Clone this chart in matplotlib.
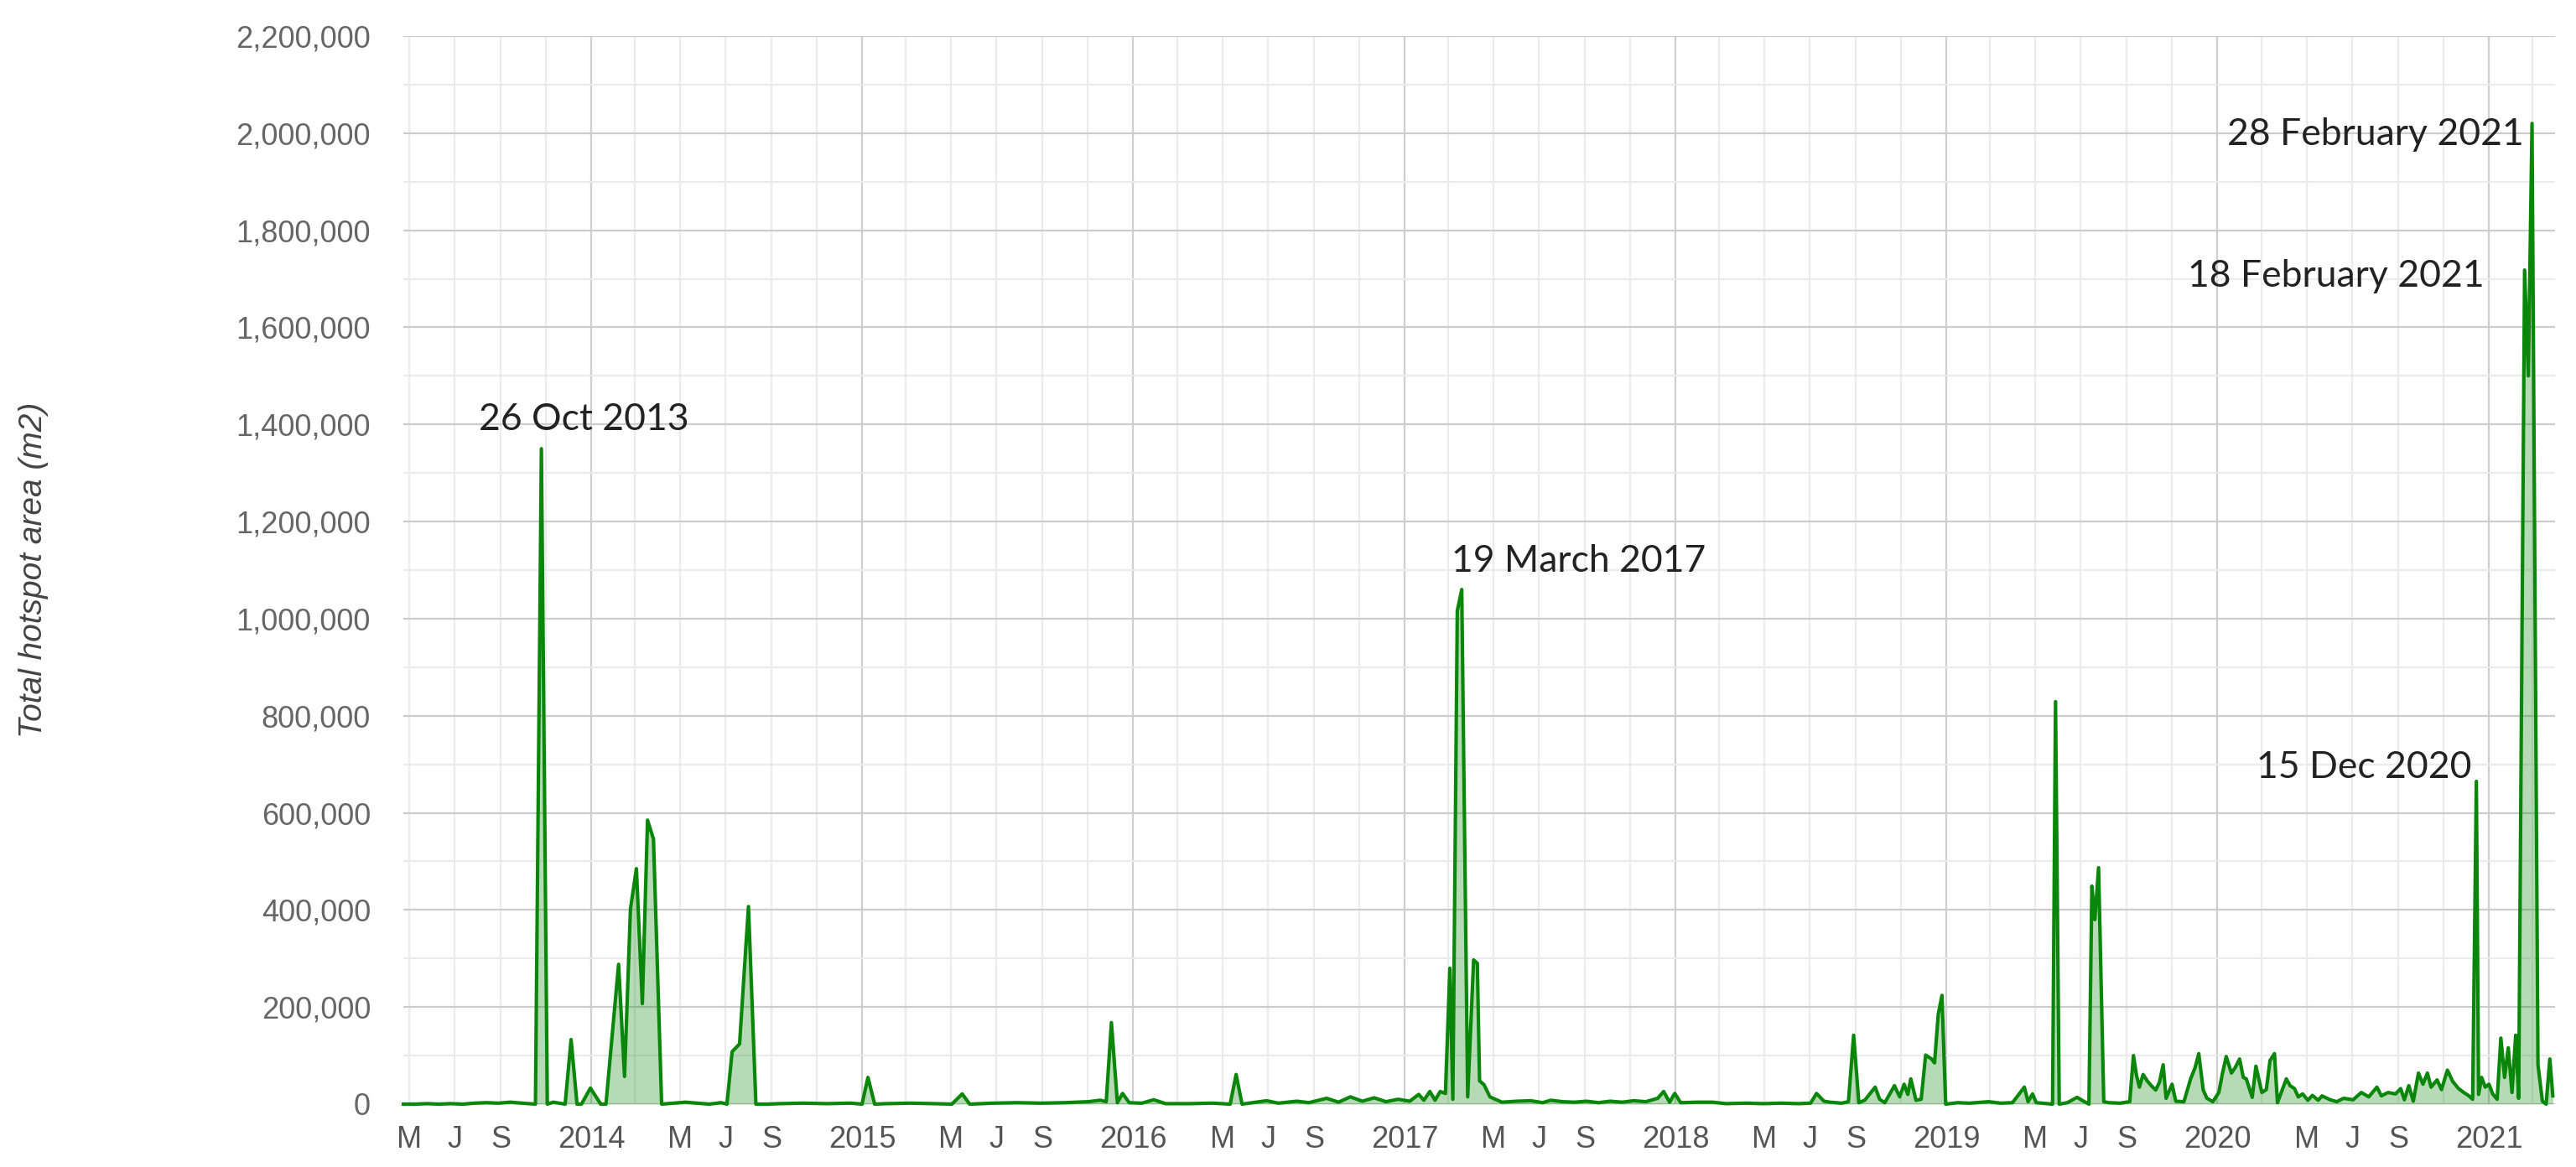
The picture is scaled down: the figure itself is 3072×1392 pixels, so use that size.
import pandas as pd
import numpy as np
import matplotlib
matplotlib.use("Agg")
import matplotlib.pyplot as plt
import matplotlib.dates as mdates
from matplotlib.ticker import MultipleLocator, FuncFormatter

# hotspot area time series (m2)
dates = [
    "2013-04-23", "2013-05-09", "2013-05-25", "2013-06-10", "2013-06-26", "2013-07-12",
    "2013-07-28", "2013-08-13", "2013-08-29", "2013-09-14", "2013-09-30", "2013-10-18",
    "2013-10-26", "2013-11-03", "2013-11-11", "2013-11-19", "2013-11-27", "2013-12-05",
    "2013-12-13", "2013-12-19", "2013-12-31", "2014-01-14", "2014-01-21", "2014-02-07",
    "2014-02-15", "2014-02-23", "2014-03-03", "2014-03-11", "2014-03-18", "2014-03-26",
    "2014-04-06", "2014-04-22", "2014-05-08", "2014-05-24", "2014-06-09", "2014-06-25",
    "2014-07-03", "2014-07-10", "2014-07-20", "2014-08-01", "2014-08-11", "2014-08-27",
    "2014-09-12", "2014-10-14", "2014-11-15", "2014-12-17", "2015-01-01", "2015-01-09",
    "2015-01-18", "2015-02-03", "2015-03-07", "2015-04-08", "2015-05-02", "2015-05-16",
    "2015-05-26", "2015-06-27", "2015-07-29", "2015-08-30", "2015-10-01", "2015-11-02",
    "2015-11-18", "2015-11-26", "2015-12-03", "2015-12-11", "2015-12-18", "2015-12-27",
    "2016-01-13", "2016-01-29", "2016-02-14", "2016-03-17", "2016-04-18", "2016-05-11",
    "2016-05-19", "2016-05-27", "2016-06-29", "2016-07-15", "2016-08-09", "2016-08-25",
    "2016-09-10", "2016-09-18", "2016-10-04", "2016-10-20", "2016-11-05", "2016-11-21",
    "2016-12-07", "2016-12-23", "2017-01-08", "2017-01-20", "2017-01-27", "2017-02-04",
    "2017-02-11", "2017-02-18", "2017-02-25", "2017-03-03", "2017-03-07", "2017-03-13",
    "2017-03-19", "2017-03-27", "2017-04-04", "2017-04-09", "2017-04-12", "2017-04-18",
    "2017-04-26", "2017-05-12", "2017-06-01", "2017-06-20", "2017-07-06", "2017-07-17",
    "2017-08-02", "2017-08-18", "2017-09-03", "2017-09-19", "2017-10-05", "2017-10-21",
    "2017-11-06", "2017-11-22", "2017-12-08", "2017-12-16", "2017-12-24", "2017-12-31",
    "2018-01-08", "2018-01-31", "2018-02-20", "2018-03-10", "2018-04-06", "2018-04-30",
    "2018-05-23", "2018-06-16", "2018-07-02", "2018-07-10", "2018-07-20", "2018-07-28",
    "2018-08-13", "2018-08-22", "2018-08-29", "2018-09-05", "2018-09-13", "2018-09-27",
    "2018-10-03", "2018-10-10", "2018-10-23", "2018-10-30", "2018-11-05", "2018-11-10",
    "2018-11-14", "2018-11-21", "2018-11-28", "2018-12-04", "2018-12-12", "2018-12-16",
    "2018-12-21", "2018-12-26", "2018-12-31", "2019-01-16", "2019-02-01", "2019-02-27",
    "2019-03-15", "2019-03-31", "2019-04-16", "2019-04-21", "2019-04-27", "2019-05-02",
    "2019-05-24", "2019-05-28", "2019-06-02", "2019-06-13", "2019-06-26", "2019-07-06",
    "2019-07-12", "2019-07-16", "2019-07-20", "2019-07-25", "2019-08-01", "2019-08-08",
    "2019-08-23", "2019-09-05", "2019-09-10", "2019-09-14", "2019-09-18", "2019-09-23",
    "2019-09-29", "2019-10-04", "2019-10-10", "2019-10-15", "2019-10-20", "2019-10-24",
    "2019-11-01", "2019-11-06", "2019-11-17", "2019-11-26", "2019-12-02", "2019-12-07",
    "2019-12-13", "2019-12-18", "2019-12-26", "2020-01-03", "2020-01-08", "2020-01-13",
    "2020-01-20", "2020-01-25", "2020-01-31", "2020-02-05", "2020-02-09", "2020-02-17",
    "2020-02-22", "2020-03-01", "2020-03-07", "2020-03-12", "2020-03-18", "2020-03-22",
    "2020-04-03", "2020-04-08", "2020-04-14", "2020-04-19", "2020-04-25", "2020-05-02",
    "2020-05-08", "2020-05-16", "2020-05-21", "2020-06-01", "2020-06-10", "2020-06-19",
    "2020-07-02", "2020-07-13", "2020-07-23", "2020-08-03", "2020-08-09", "2020-08-18",
    "2020-08-28", "2020-09-04", "2020-09-09", "2020-09-15", "2020-09-21", "2020-09-28",
    "2020-10-04", "2020-10-10", "2020-10-15", "2020-10-23", "2020-10-29", "2020-11-06",
    "2020-11-13", "2020-11-21", "2020-11-28", "2020-12-05", "2020-12-10", "2020-12-15",
    "2020-12-18", "2020-12-22", "2020-12-27", "2021-01-01", "2021-01-06", "2021-01-12",
    "2021-01-17", "2021-01-22", "2021-01-27", "2021-02-01", "2021-02-06", "2021-02-10",
    "2021-02-18", "2021-02-23", "2021-02-28", "2021-03-08", "2021-03-14", "2021-03-19",
    "2021-03-24", "2021-03-28",
]
area = [
    0, 0, 1000, 0, 1000, 0,
    2000, 3000, 2000, 4000, 2000, 0,
    1350000, 0, 4000, 2000, 0, 133000,
    0, 0, 33000, 0, 0, 288000,
    57000, 402000, 485000, 207000, 585000, 546000,
    0, 2000, 4000, 2000, 0, 3000,
    0, 108000, 124000, 407000, 0, 0,
    1000, 2000, 1000, 2000, 0, 55000,
    0, 1000, 2000, 1000, 0, 21000,
    0, 2000, 3000, 2000, 3000, 5000,
    8000, 5000, 168000, 3000, 22000, 3000,
    2000, 9000, 1000, 1000, 2000, 0,
    61000, 0, 7000, 2000, 6000, 3000,
    9000, 12000, 4000, 15000, 6000, 13000,
    5000, 10000, 6000, 20000, 8000, 26000,
    8000, 26000, 22000, 280000, 10000, 1016000,
    1060000, 15000, 297000, 290000, 48000, 40000,
    15000, 4000, 6000, 7000, 3000, 8000,
    5000, 4000, 6000, 3000, 6000, 4000,
    7000, 5000, 12000, 26000, 4000, 22000,
    3000, 4000, 4000, 1000, 2000, 1000,
    2000, 1000, 2000, 22000, 6000, 4000,
    2000, 5000, 142000, 3000, 8000, 35000,
    10000, 3000, 38000, 15000, 41000, 20000,
    52000, 8000, 10000, 101000, 93000, 85000,
    185000, 224000, 0, 3000, 2000, 5000,
    2000, 3000, 35000, 5000, 21000, 3000,
    0, 829000, 0, 3000, 14000, 5000,
    0, 449000, 380000, 487000, 5000, 3000,
    2000, 5000, 100000, 60000, 35000, 61000,
    47000, 38000, 29000, 45000, 81000, 12000,
    41000, 6000, 5000, 52000, 75000, 104000,
    29000, 12000, 5000, 24000, 64000, 98000,
    64000, 75000, 93000, 55000, 52000, 14000,
    78000, 24000, 30000, 90000, 104000, 3000,
    52000, 38000, 32000, 15000, 21000, 8000,
    18000, 8000, 17000, 9000, 5000, 12000,
    9000, 24000, 15000, 35000, 17000, 24000,
    21000, 32000, 9000, 38000, 6000, 64000,
    41000, 64000, 35000, 50000, 30000, 70000,
    47000, 32000, 24000, 17000, 10000, 665000,
    20000, 55000, 35000, 41000, 21000, 10000,
    136000, 55000, 116000, 24000, 142000, 12000,
    1718000, 1500000, 2020000, 81000, 6000, 0,
    93000, 17000,
]

# annotations: text, anchor date, anchor value, alignment
note_text = ["26 Oct 2013", "19 March 2017", "15 Dec 2020", "18 February 2021", "28 February 2021"]
note_date = ["2013-12-22", "2017-08-24", "2020-12-09", "2020-12-26", "2021-02-17"]
note_val = [1389000, 1097000, 672000, 1684000, 1976000]
note_ha = ["center", "center", "right", "right", "right"]

x = pd.to_datetime(dates)
y = np.array(area)

green = "#0a870a"

fig = plt.figure(figsize=(30.72, 13.92), dpi=100)
ax = fig.add_axes([481/3072, 75/1392, (3047-481)/3072, (1317-43)/1392])

ax.fill_between(x, 0, y, color=green, alpha=0.3, linewidth=0, zorder=2)
ax.plot(x, y, color=green, linewidth=3.0, zorder=3, clip_on=False)

ax.set_xlim(pd.Timestamp("2013-04-23"), pd.Timestamp("2021-03-31"))
ax.set_ylim(0, 2200000)

# y axis
ax.yaxis.set_major_locator(MultipleLocator(200000))
ax.yaxis.set_minor_locator(MultipleLocator(100000))
ax.yaxis.set_major_formatter(FuncFormatter(lambda v, p: "{:,.0f}".format(v)))

# x axis: years as major, every second month as minor
ax.xaxis.set_major_locator(mdates.YearLocator())
ax.xaxis.set_major_formatter(mdates.DateFormatter("%Y"))
ax.xaxis.set_minor_locator(mdates.MonthLocator(bymonth=[3, 5, 7, 9, 11]))
mlab = {5: "M", 7: "J", 9: "S"}
ax.xaxis.set_minor_formatter(FuncFormatter(lambda v, p: mlab.get(mdates.num2date(v).month, "")))

ax.grid(True, which="major", axis="y", color="#cccccc", linewidth=1.6, zorder=0)
ax.grid(True, which="minor", axis="y", color="#ebebeb", linewidth=1.6, zorder=0)
ax.grid(True, which="major", axis="x", color="#cfcfcf", linewidth=1.6, zorder=0)
ax.grid(True, which="minor", axis="x", color="#ececec", linewidth=1.6, zorder=0)
ax.set_axisbelow(True)

for s in ax.spines.values():
    s.set_visible(False)

ax.tick_params(axis="both", which="both", length=0)
ax.tick_params(axis="y", which="major", pad=28, labelsize=26, labelcolor="#666666")
ax.tick_params(axis="x", which="both", pad=18, labelsize=26, labelcolor="#555555")
for lab in ax.get_xticklabels(which="both") + ax.get_yticklabels():
    lab.set_fontfamily("Liberation Sans")

fig.text(40/3072, 1 - 680/1392, "Total hotspot area (m2)", rotation=90, ha="center", va="center",
         fontsize=28, style="italic", color="#444444",
         family=["Liberation Sans Narrow", "Liberation Sans"])

for t, d, v, h in zip(note_text, note_date, note_val, note_ha):
    ax.text(pd.Timestamp(d), v, t, ha=h, va="baseline", fontsize=32,
            family=["Lato", "DejaVu Sans"], color="#222222", zorder=4)

fig.savefig("out.png", dpi=100)
